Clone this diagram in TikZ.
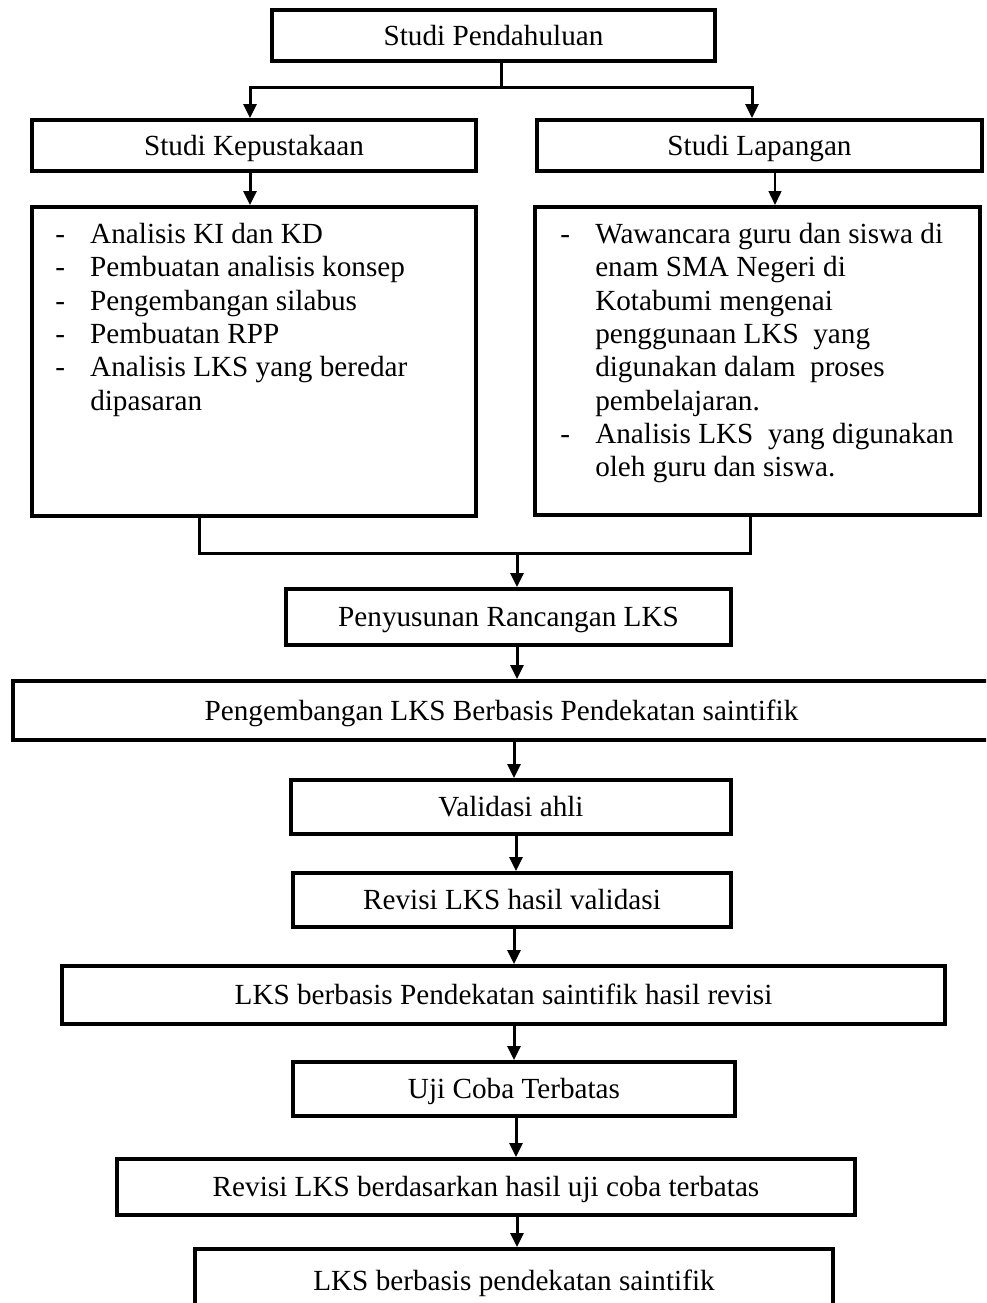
\documentclass[tikz,border=0pt]{standalone}
\usepackage{fontspec}
\setmainfont{Liberation Serif}
\usetikzlibrary{arrows.meta}
\newcommand\diagfont{\fontsize{21.9pt}{25pt}\selectfont}
\newcommand\dashitem{\makebox[26.25pt][l]{-}}
\newcommand\contitem{\hspace*{26.25pt}}
\begin{document}
\begin{tikzpicture}[x=0.75pt,y=-0.75pt,
  box/.style={draw, line width=3pt, inner sep=0pt, text height=14.5pt, text depth=0pt, font=\diagfont},
  listtext/.style={inner sep=0pt, align=left, font=\diagfont},
  conn/.style={line width=2.25pt},
  thinconn/.style={line width=1.1pt},
  arr/.style={-{Triangle[length=10.5pt,width=9.75pt]}}]
\useasboundingbox (0,0) rectangle (986,1303);
\clip (0,0) rectangle (986,1303);
% boxes
\node[box, minimum width=332.25pt, minimum height=38.25pt] (top) at (493.5,35.5) {Studi Pendahuluan};
\node[box, minimum width=333pt, minimum height=38.25pt] (kep) at (254,145.5) {Studi Kepustakaan};
\node[box, minimum width=333.75pt, minimum height=38.25pt] (lap) at (759.5,145.5) {Studi Lapangan};
\node[box, minimum width=333pt, minimum height=231.75pt] (kepbody) at (254,361.5) {};
\node[box, minimum width=333.75pt, minimum height=231pt] (lapbody) at (757.5,361) {};
\node[listtext, anchor=north west] (keplist) at (55,223) {\dashitem Analisis KI dan KD\\
\dashitem Pembuatan analisis konsep\\
\dashitem Pengembangan silabus\\
\dashitem Pembuatan RPP\\
\dashitem Analisis LKS yang beredar\\
\contitem dipasaran};
\node[listtext, anchor=north west] (laplist) at (560,223) {\dashitem Wawancara guru dan siswa di\\
\contitem enam SMA Negeri di\\
\contitem Kotabumi mengenai\\
\contitem penggunaan LKS~ yang\\
\contitem digunakan dalam~ proses\\
\contitem pembelajaran.\\
\dashitem Analisis LKS~ yang digunakan\\
\contitem oleh guru dan siswa.};
\node[box, minimum width=333.75pt, minimum height=42pt] (pen) at (508.5,617) {Penyusunan Rancangan LKS};
\node[box, minimum width=732.75pt, minimum height=44.25pt] (peng) at (501.5,710.5) {Pengembangan LKS Berbasis Pendekatan saintifik};
\node[box, minimum width=330pt, minimum height=40.5pt] (val) at (511,807) {Validasi ahli};
\node[box, minimum width=328.5pt, minimum height=40.5pt] (rev) at (512,900) {Revisi LKS hasil validasi};
\node[box, minimum width=662.25pt, minimum height=43.5pt] (lksrev) at (503.5,995) {LKS berbasis Pendekatan saintifik hasil revisi};
\node[box, minimum width=331.5pt, minimum height=40.5pt] (uji) at (514,1089) {Uji Coba Terbatas};
\node[box, minimum width=553.5pt, minimum height=42pt] (revb) at (486,1187) {Revisi LKS berdasarkan hasil uji coba terbatas};
\node[box, minimum width=478.5pt, minimum height=47.25pt] (last) at (514,1280.5) {LKS berbasis pendekatan saintifik};
% helper coordinates
\coordinate (t0) at (501,87);
\coordinate (tl) at (250,87);
\coordinate (tr) at (752,87);
\coordinate (xl) at (250,0);
\coordinate (xr) at (775,0);
\coordinate (bl) at (199,553);
\coordinate (br) at (750,553);
\coordinate (m0) at (517,553);
\coordinate (x517) at (517,0);
\coordinate (x516) at (516,0);
\coordinate (x514) at (514,0);
% connectors
\draw[conn] (top.south -| t0) -- (t0);
\draw[conn,arr] (t0) -| (kep.north -| tl);
\draw[conn,arr] (t0) -| (lap.north -| tr);
\draw[conn,arr] (kep.south -| xl) -- (kepbody.north -| xl);
\draw[thinconn,arr] (lap.south -| xr) -- (lapbody.north -| xr);
\draw[conn] (kepbody.south -| bl) -- (bl) -- (br) -- (lapbody.south -| br);
\draw[conn,arr] (m0) -- (pen.north -| m0);
\draw[conn,arr] (pen.south -| x517) -- (peng.north -| x517);
\draw[conn,arr] (peng.south -| x514) -- (val.north -| x514);
\draw[conn,arr] (val.south -| x516) -- (rev.north -| x516);
\draw[conn,arr] (rev.south -| x514) -- (lksrev.north -| x514);
\draw[conn,arr] (lksrev.south -| x514) -- (uji.north -| x514);
\draw[conn,arr] (uji.south -| x516) -- (revb.north -| x516);
\draw[conn,arr] (revb.south -| x517) -- (last.north -| x517);
\end{tikzpicture}
\end{document}
